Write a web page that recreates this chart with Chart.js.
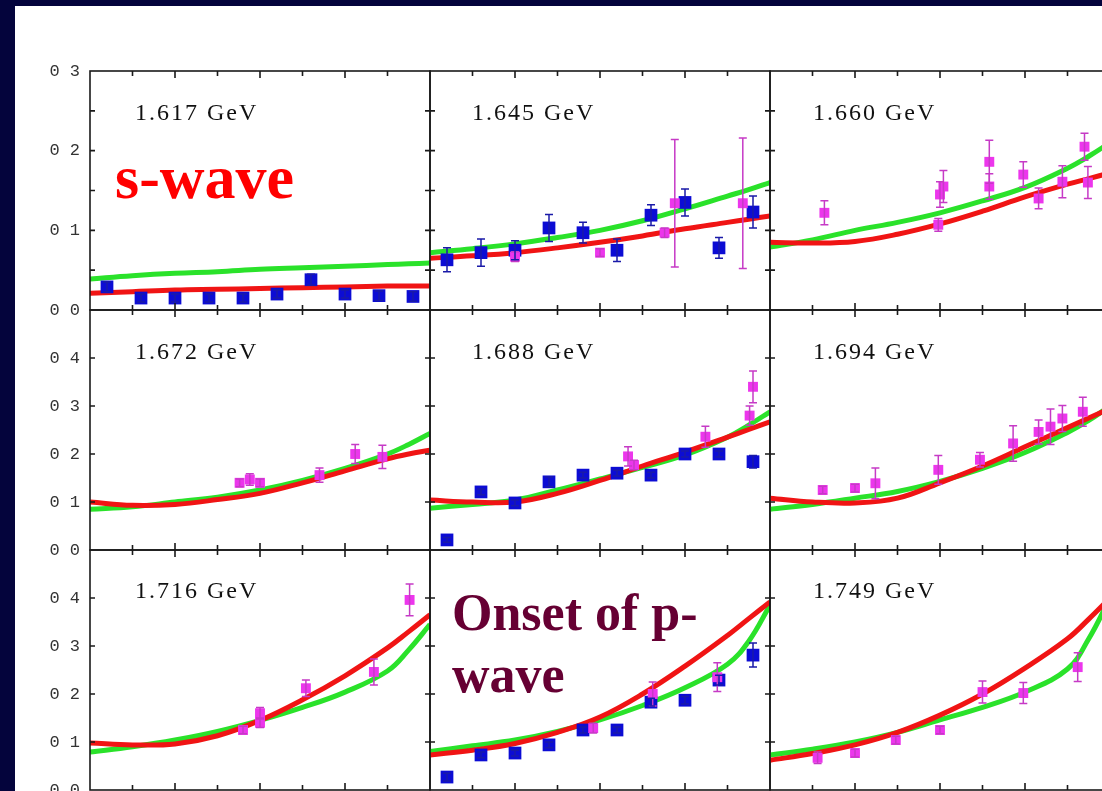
<!DOCTYPE html>
<html>
<head>
<meta charset="utf-8">
<title>Angular distributions</title>
<script src="https://cdn.jsdelivr.net/npm/chart.js@4.4.0/dist/chart.umd.min.js"></script>
<style>
  html, body { margin: 0; padding: 0; width: 1102px; height: 791px; overflow: hidden; background: #04043c; }
  #sheet { position: absolute; left: 15px; top: 6px; width: 1087px; height: 785px; background: #fff; }
  canvas { position: absolute; }
  .lbl { position: absolute; font-family: "Liberation Serif", serif; white-space: nowrap; }
  .energy { font-size: 24px; line-height: 24px; color: #111; letter-spacing: 2px; }
  .swave { font-size: 62px; line-height: 62px; font-weight: bold; color: #ff0000; }
  .pwave { font-size: 52px; line-height: 62px; font-weight: bold; color: #660033; }
</style>
</head>
<body>
<div id="sheet"></div>
<script>
// x = cos(theta), curves sampled at these points
const curveX = [-1, -0.75, -0.5, -0.25, 0, 0.25, 0.5, 0.75, 0.875, 1];
// bin centres of the blue data
const binX = [-0.9, -0.7, -0.5, -0.3, -0.1, 0.1, 0.3, 0.5, 0.7, 0.9];
const xTicks = [-0.75, -0.5, -0.25, 0, 0.25, 0.5, 0.75];
const yTicksTop = [0.05, 0.1, 0.15, 0.2, 0.25];
const yTicksLow = [0.1, 0.2, 0.3, 0.4];

// 1.617 GeV
const red1 = [0.021, 0.023, 0.025, 0.026, 0.027, 0.028, 0.029, 0.030, 0.030, 0.030];
const green1 = [0.039, 0.043, 0.046, 0.048, 0.051, 0.053, 0.055, 0.057, 0.058, 0.059];
const blue1 = [0.029, 0.015, 0.015, 0.015, 0.015, 0.020, 0.038, 0.020, 0.018, 0.017];
const blueErr1 = [0.006, 0.005, 0.005, 0.005, 0.005, 0.005, 0.007, 0.005, 0.006, 0.006];

// 1.645 GeV
const red2 = [0.065, 0.068, 0.072, 0.078, 0.085, 0.093, 0.102, 0.110, 0.114, 0.118];
const green2 = [0.072, 0.077, 0.083, 0.091, 0.100, 0.112, 0.127, 0.143, 0.151, 0.160];
const blue2 = [0.063, 0.072, 0.075, 0.103, 0.097, 0.075, 0.119, 0.135, 0.078, 0.123];
const blueErr2 = [0.015, 0.017, 0.012, 0.017, 0.013, 0.014, 0.013, 0.017, 0.013, 0.020];
const magX2 = [-0.5, 0.0, 0.38, 0.44, 0.84];
const magY2 = [0.067, 0.072, 0.097, 0.134, 0.134];
const magErr2 = [0.006, 0.005, 0.006, 0.080, 0.082];

// 1.660 GeV
const red3 = [0.085, 0.084, 0.086, 0.095, 0.108, 0.124, 0.142, 0.158, 0.165, 0.172];
const green3 = [0.079, 0.088, 0.100, 0.110, 0.122, 0.137, 0.154, 0.178, 0.193, 0.210];
const magX3 = [-0.68, -0.01, 0.0, 0.02, 0.29, 0.29, 0.49, 0.58, 0.72, 0.85, 0.87];
const magY3 = [0.122, 0.107, 0.145, 0.155, 0.186, 0.155, 0.170, 0.140, 0.161, 0.205, 0.160];
const magErr3 = [0.015, 0.008, 0.016, 0.020, 0.027, 0.016, 0.016, 0.013, 0.020, 0.017, 0.020];

// 1.672 GeV
const red4 = [0.100, 0.093, 0.095, 0.105, 0.118, 0.140, 0.165, 0.190, 0.200, 0.208];
const green4 = [0.085, 0.090, 0.100, 0.110, 0.125, 0.145, 0.170, 0.200, 0.220, 0.243];
const magX4 = [-0.12, -0.06, 0.0, 0.35, 0.56, 0.72];
const magY4 = [0.140, 0.147, 0.140, 0.156, 0.200, 0.194];
const magErr4 = [0.008, 0.012, 0.008, 0.015, 0.020, 0.024];

// 1.688 GeV
const red5 = [0.104, 0.100, 0.100, 0.118, 0.145, 0.175, 0.204, 0.235, 0.251, 0.267];
const green5 = [0.087, 0.095, 0.104, 0.125, 0.148, 0.172, 0.198, 0.235, 0.260, 0.288];
const blue5 = [0.021, 0.121, 0.098, 0.142, 0.156, 0.160, 0.156, 0.200, 0.200, 0.184];
const blueErr5 = [0.005, 0.006, 0.006, 0.010, 0.006, 0.006, 0.006, 0.006, 0.006, 0.013];
const magX5 = [0.165, 0.2, 0.62, 0.88, 0.9];
const magY5 = [0.195, 0.177, 0.236, 0.280, 0.340];
const magErr5 = [0.020, 0.010, 0.022, 0.020, 0.033];

// 1.694 GeV
const red6 = [0.108, 0.100, 0.098, 0.108, 0.140, 0.175, 0.215, 0.255, 0.275, 0.295];
const green6 = [0.085, 0.095, 0.108, 0.122, 0.143, 0.170, 0.203, 0.245, 0.270, 0.300];
const magX6 = [-0.69, -0.5, -0.38, -0.01, 0.235, 0.43, 0.58, 0.65, 0.72, 0.84];
const magY6 = [0.125, 0.129, 0.139, 0.167, 0.188, 0.222, 0.246, 0.257, 0.274, 0.288];
const magErr6 = [0.008, 0.008, 0.032, 0.030, 0.015, 0.037, 0.025, 0.037, 0.027, 0.030];

// 1.716 GeV
const red7 = [0.098, 0.094, 0.096, 0.113, 0.145, 0.188, 0.238, 0.296, 0.330, 0.365];
const green7 = [0.079, 0.090, 0.104, 0.122, 0.145, 0.172, 0.204, 0.248, 0.292, 0.345];
const magX7 = [-0.1, 0.0, 0.0, 0.27, 0.67, 0.88];
const magY7 = [0.125, 0.140, 0.160, 0.212, 0.246, 0.396];
const magErr7 = [0.008, 0.010, 0.012, 0.017, 0.027, 0.033];

// onset of p-wave panel
const red8 = [0.073, 0.083, 0.097, 0.120, 0.152, 0.200, 0.258, 0.322, 0.357, 0.392];
const green8 = [0.080, 0.092, 0.104, 0.122, 0.146, 0.176, 0.213, 0.262, 0.310, 0.385];
const blue8 = [0.027, 0.073, 0.077, 0.094, 0.125, 0.125, 0.183, 0.187, 0.229, 0.281];
const blueErr8 = [0.008, 0.006, 0.006, 0.006, 0.006, 0.006, 0.008, 0.008, 0.010, 0.025];
const magX8 = [-0.04, 0.31, 0.69];
const magY8 = [0.129, 0.200, 0.235];
const magErr8 = [0.010, 0.025, 0.030];

// 1.749 GeV
const red9 = [0.062, 0.076, 0.094, 0.120, 0.156, 0.200, 0.254, 0.315, 0.356, 0.400];
const green9 = [0.073, 0.085, 0.100, 0.120, 0.146, 0.172, 0.204, 0.252, 0.315, 0.400];
const magX9 = [-0.72, -0.5, -0.26, 0.0, 0.25, 0.49, 0.81];
const magY9 = [0.067, 0.077, 0.104, 0.125, 0.204, 0.202, 0.256];
const magErr9 = [0.012, 0.008, 0.008, 0.008, 0.023, 0.022, 0.030];

const panels = [
  { title: '1.617 GeV', row: 0, col: 0, red: red1, green: green1, blue: blue1, blueErr: blueErr1, magX: [], magY: [], magErr: [] },
  { title: '1.645 GeV', row: 0, col: 1, red: red2, green: green2, blue: blue2, blueErr: blueErr2, magX: magX2, magY: magY2, magErr: magErr2 },
  { title: '1.660 GeV', row: 0, col: 2, red: red3, green: green3, blue: [], blueErr: [], magX: magX3, magY: magY3, magErr: magErr3 },
  { title: '1.672 GeV', row: 1, col: 0, red: red4, green: green4, blue: [], blueErr: [], magX: magX4, magY: magY4, magErr: magErr4 },
  { title: '1.688 GeV', row: 1, col: 1, red: red5, green: green5, blue: blue5, blueErr: blueErr5, magX: magX5, magY: magY5, magErr: magErr5 },
  { title: '1.694 GeV', row: 1, col: 2, red: red6, green: green6, blue: [], blueErr: [], magX: magX6, magY: magY6, magErr: magErr6 },
  { title: '1.716 GeV', row: 2, col: 0, red: red7, green: green7, blue: [], blueErr: [], magX: magX7, magY: magY7, magErr: magErr7 },
  { title: '', row: 2, col: 1, red: red8, green: green8, blue: blue8, blueErr: blueErr8, magX: magX8, magY: magY8, magErr: magErr8 },
  { title: '1.749 GeV', row: 2, col: 2, red: red9, green: green9, blue: [], blueErr: [], magX: magX9, magY: magY9, magErr: magErr9 }
];

// page geometry
const colLeft = [90, 430, 770];
const panelW = 340;
const rowTop = [71, 310, 550];
const rowH = [239, 240, 240];
const yMax = [0.3, 0.5, 0.5];
const yStep = [0.05, 0.1, 0.1];
const yLabelMax = [0.3, 0.4, 0.4];
const M = 12;
const AXIS_W = 75;

// vertical error bars with small caps
const errorBars = {
  id: 'errorBars',
  afterDatasetsDraw(chart) {
    const { ctx, scales: { x, y } } = chart;
    ctx.save();
    ctx.lineWidth = 1.5;
    chart.data.datasets.forEach(ds => {
      if (!ds.err) return;
      ctx.strokeStyle = ds.errColor;
      ds.data.forEach((pt, i) => {
        const e = ds.err[i];
        const px = x.getPixelForValue(pt.x);
        const top = y.getPixelForValue(pt.y + e);
        const bot = y.getPixelForValue(pt.y - e);
        ctx.beginPath();
        ctx.moveTo(px, top); ctx.lineTo(px, bot);
        ctx.moveTo(px - 4, top); ctx.lineTo(px + 4, top);
        ctx.moveTo(px - 4, bot); ctx.lineTo(px + 4, bot);
        ctx.stroke();
      });
    });
    ctx.restore();
  }
};

// box round the panel with inward tick marks on all four sides
const frameTicks = {
  id: 'frameTicks',
  afterDraw(chart, args, opts) {
    const { ctx, chartArea: a, scales: { x, y } } = chart;
    ctx.save();
    ctx.strokeStyle = '#1a1a1a';
    ctx.lineWidth = 1.6;
    ctx.strokeRect(a.left, a.top, a.right - a.left, a.bottom - a.top);
    ctx.beginPath();
    xTicks.forEach(v => {
      const px = x.getPixelForValue(v);
      const len = (v * 2) % 1 === 0 ? 7 : 5;
      ctx.moveTo(px, a.bottom); ctx.lineTo(px, a.bottom - len);
      ctx.moveTo(px, a.top); ctx.lineTo(px, a.top + len);
    });
    opts.yTicks.forEach(v => {
      const py = y.getPixelForValue(v);
      ctx.moveTo(a.left, py); ctx.lineTo(a.left + 5, py);
      ctx.moveTo(a.right, py); ctx.lineTo(a.right - 5, py);
    });
    ctx.stroke();
    ctx.restore();
  }
};

function pts(xs, ys) {
  return ys.map((v, i) => ({ x: xs[i], y: v }));
}

panels.forEach(p => {
  const r = p.row, c = p.col;
  const isLeft = c === 0;
  const canvas = document.createElement('canvas');
  canvas.width = isLeft ? AXIS_W + panelW + M : panelW + 2 * M;
  canvas.height = rowH[r] + 2 * M;
  canvas.style.left = (isLeft ? colLeft[0] - AXIS_W : colLeft[c] - M) + 'px';
  canvas.style.top = (rowTop[r] - M) + 'px';
  document.body.appendChild(canvas);

  const yScale = {
    type: 'linear', min: 0, max: yMax[r], display: isLeft,
    grid: { display: false, drawTicks: false },
    border: { display: false },
    ticks: {
      stepSize: yStep[r],
      padding: 10,
      autoSkip: false,
      color: '#333',
      font: { family: 'Liberation Mono', size: 17 },
      callback: v => {
        const t = Math.round(v * 10);
        if (Math.abs(v * 10 - t) > 1e-6 || v > yLabelMax[r] + 1e-9) return '';
        return '0 ' + t;
      }
    }
  };
  if (isLeft) {
    // fixed axis width, and keep the labels from pushing the plot area inward
    yScale.afterFit = s => {
      s.width = AXIS_W;
      s.paddingTop = 0;
      s.paddingBottom = 0;
    };
  }

  new Chart(canvas, {
    type: 'scatter',
    data: {
      datasets: [
        { type: 'scatter', data: pts(p.magX, p.magY), err: p.magErr, errColor: '#c63ac6',
          pointStyle: 'rect', pointRadius: 7, backgroundColor: '#ec36ec', borderWidth: 0, order: 0 },
        { type: 'scatter', data: pts(binX, p.blue), err: p.blueErr, errColor: '#1a1aa8',
          pointStyle: 'rect', pointRadius: 9, backgroundColor: '#0c0cd4', borderWidth: 0, order: 1 },
        { type: 'line', data: pts(curveX, p.red), borderColor: '#f01414', borderWidth: 5,
          pointRadius: 0, tension: 0.4, order: 2 },
        { type: 'line', data: pts(curveX, p.green), borderColor: '#2ae22a', borderWidth: 5,
          pointRadius: 0, tension: 0.4, order: 3 }
      ]
    },
    options: {
      responsive: false,
      animation: false,
      events: [],
      layout: { padding: { left: isLeft ? 0 : M, right: M, top: M, bottom: M } },
      plugins: {
        legend: { display: false },
        tooltip: { enabled: false },
        frameTicks: { yTicks: r === 0 ? yTicksTop : yTicksLow }
      },
      scales: {
        x: { type: 'linear', min: -1, max: 1, display: false },
        y: yScale
      }
    },
    plugins: [errorBars, frameTicks]
  });

  if (p.title) {
    const d = document.createElement('div');
    d.className = 'lbl energy';
    d.textContent = p.title;
    d.style.left = [135, 472, 813][c] + 'px';
    d.style.top = [100, 339, 578][r] + 'px';
    document.body.appendChild(d);
  }
});

const sw = document.createElement('div');
sw.className = 'lbl swave';
sw.style.left = '115px';
sw.style.top = '146px';
sw.textContent = 's-wave';
document.body.appendChild(sw);

const pw = document.createElement('div');
pw.className = 'lbl pwave';
pw.style.left = '452px';
pw.style.top = '582px';
pw.innerHTML = 'Onset of p-<br>wave';
document.body.appendChild(pw);
</script>
</body>
</html>
